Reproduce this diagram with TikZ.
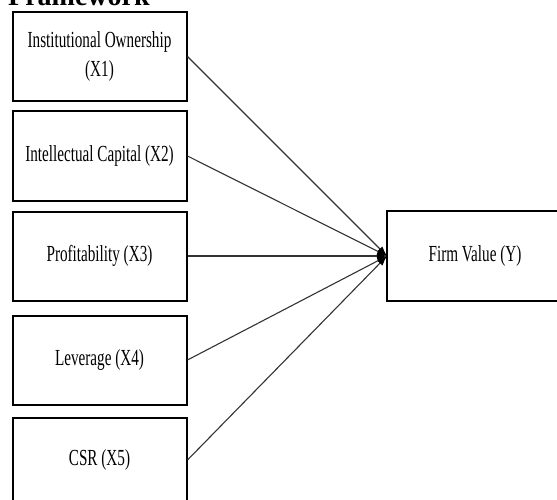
\documentclass[tikz,border=0pt]{standalone}
\usepackage{fontspec}
\setmainfont{Liberation Serif}
\newfontfamily\condfont[FakeStretch=0.66]{Liberation Serif}
\usetikzlibrary{arrows.meta}
\definecolor{linegray}{HTML}{333333}
\tikzset{
  varbox/.style={draw=black, line width=2pt, minimum width=174pt, minimum height=89pt,
    inner sep=0pt, align=center, font=\condfont\fontsize{23}{29}\selectfont},
  link/.style={draw=linegray, line width=1.1pt, -{Latex[length=10pt,width=7pt,black]}},
}
\begin{document}
\begin{tikzpicture}[x=1pt,y=-1pt]
\useasboundingbox (0,0) rectangle (557,500);
\clip (0,0) rectangle (557,500);
\node[anchor=base west, inner sep=0pt, font=\bfseries\fontsize{28}{30}\selectfont] (title) at (8,6) {Framework};
\node[varbox] (x1) at (99.5,56.5) {Institutional Ownership\\(X1)};
\node[varbox] (x2) at (99.5,156) {Intellectual Capital (X2)};
\node[varbox] (x3) at (99.5,256) {Profitability (X3)};
\node[varbox] (x4) at (99.5,360) {Leverage (X4)};
\node[varbox, minimum height=84pt] (x5) at (99.5,460) {CSR (X5)};
\node[varbox, draw=none, minimum height=88pt, minimum width=200pt] (y) at (488,256) {Firm Value (Y)\hspace*{26pt}};
\draw[black, line width=2pt] (y.north east) -- (y.north west) -- (y.south west) -- (y.south east);
\draw[link] (x1.east) -- (y.west);
\draw[link] (x2.east) -- (y.west);
\draw[link] (x3.east) -- (y.west);
\draw[link] (x4.east) -- (y.west);
\draw[link] (x5.east) -- (y.west);
\end{tikzpicture}
\end{document}
